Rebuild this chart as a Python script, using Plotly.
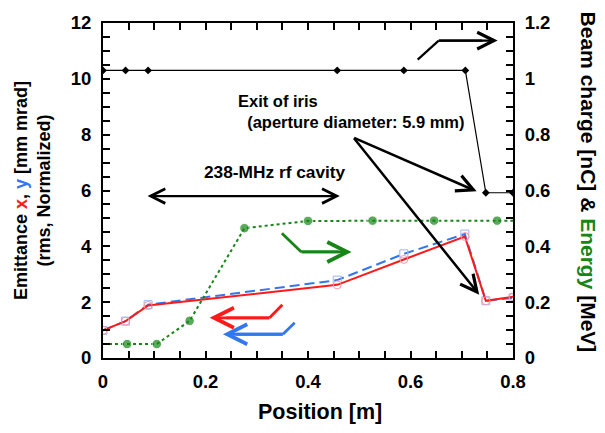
import plotly.graph_objects as go

# ---------------- data ----------------
emit_pos = [0.0, 0.044, 0.088, 0.457, 0.587, 0.706, 0.747, 0.8]
emit_x = [0.99, 1.32, 1.88, 2.62, 3.53, 4.35, 2.05, 2.19]
emit_y = [0.99, 1.32, 1.91, 2.79, 3.73, 4.44, 2.05, 2.15]

charge_pos = [0.0, 0.044, 0.088, 0.457, 0.587, 0.707, 0.747, 0.8]
charge = [1.03, 1.03, 1.03, 1.03, 1.03, 1.03, 0.592, 0.592]

energy_pos = [0.0, 0.047, 0.105, 0.169, 0.276, 0.40, 0.526, 0.646, 0.769, 0.8]
energy = [0.05, 0.05, 0.05, 0.133, 0.465, 0.491, 0.492, 0.492, 0.492, 0.492]

x_ticks = [0, 0.2, 0.4, 0.6, 0.8]
x_labels = ["0", "0.2", "0.4", "0.6", "0.8"]
yl_ticks = [0, 2, 4, 6, 8, 10, 12]
yr_ticks = [0, 0.2, 0.4, 0.6, 0.8, 1.0, 1.2]
yr_labels = ["0", "0.2", "0.4", "0.6", "0.8", "1", "1.2"]

RED = "#ff1a1a"
BLUE = "#3377f0"
GREEN = "#178517"
FONT = "Liberation Sans"

fig = go.Figure()

fig.add_trace(go.Scatter(
    x=charge_pos, y=charge, yaxis="y2", mode="lines+markers",
    line=dict(color="black", width=1.2),
    marker=dict(symbol="diamond", size=6, color="black"),
    showlegend=False))

e_sizes = [0] + [9.5] * (len(energy_pos) - 2) + [0]
fig.add_trace(go.Scatter(
    x=energy_pos, y=energy, yaxis="y2", mode="lines+markers",
    line=dict(color=GREEN, width=2, dash="dot"),
    marker=dict(symbol="circle", size=e_sizes, color=GREEN),
    showlegend=False))

fig.add_trace(go.Scatter(
    x=emit_pos, y=emit_y, mode="lines+markers",
    line=dict(color=BLUE, width=2, dash="10px,5px"),
    marker=dict(symbol="square-open", size=8, color="#9db4f2", line=dict(width=1)),
    showlegend=False))

fig.add_trace(go.Scatter(
    x=emit_pos, y=emit_x, mode="lines+markers",
    line=dict(color=RED, width=2),
    marker=dict(symbol="circle-open", size=8, color="#f59aa6", line=dict(width=1)),
    showlegend=False))

tickfont = dict(family=FONT, size=18.5, color="black", weight="bold")

fig.update_layout(
    width=605, height=433,
    margin=dict(l=103, r=92, t=19, b=75),
    paper_bgcolor="white", plot_bgcolor="white",
    font=dict(family=FONT, color="black"),
    xaxis=dict(range=[0, 0.8], tickvals=x_ticks, ticktext=x_labels,
               ticks="inside", ticklen=7, tickwidth=1.5, tickcolor="black",
               minor=dict(dtick=0.05, ticks="inside", ticklen=7, tickwidth=1.5, tickcolor="black"),
               showline=True, linewidth=2, linecolor="black", mirror="ticks",
               showgrid=False, zeroline=False, tickfont=tickfont, ticklabelstandoff=6),
    yaxis=dict(range=[0, 12], tickvals=yl_ticks,
               ticks="inside", ticklen=7, tickwidth=1.5, tickcolor="black",
               minor=dict(dtick=0.5, ticks="inside", ticklen=7, tickwidth=1.5, tickcolor="black"),
               showline=True, linewidth=2, linecolor="black", mirror=True,
               showgrid=False, zeroline=False, tickfont=tickfont, ticklabelstandoff=6),
    yaxis2=dict(range=[0, 1.2], tickvals=yr_ticks, ticktext=yr_labels,
                overlaying="y", side="right", anchor="x",
                ticks="inside", ticklen=7, tickwidth=1.5, tickcolor="black",
                minor=dict(dtick=0.05, ticks="inside", ticklen=7, tickwidth=1.5, tickcolor="black"),
                showline=True, linewidth=2, linecolor="black",
                showgrid=False, zeroline=False, tickfont=tickfont, ticklabelstandoff=6),
)

afont = dict(family=FONT, size=16.5, color="black", weight="bold")

annotations = [
    # axis titles
    dict(xref="paper", yref="paper", x=(320 - 103) / 410, y=(358 - 413) / 339,
         text="Position [m]", showarrow=False,
         font=dict(family=FONT, size=21.5, color="black", weight="bold"),
         xanchor="center", yanchor="middle"),
    dict(xref="paper", yref="paper", x=(33 - 103) / 410, y=(358 - 189) / 339,
         text=f"Emittance <span style='color:{RED}'>x</span>, <span style='color:{BLUE}'>y</span> [mm mrad]<br>(rms, Normalized)",
         showarrow=False, font=dict(family=FONT, size=18, color="black", weight="bold"),
         textangle=-90, xanchor="center", yanchor="middle"),
    dict(xref="paper", yref="paper", x=(588.5 - 103) / 410, y=(358 - 180) / 339,
         text=f"Beam charge [nC] &amp; <span style='color:{GREEN}'>Energy</span> [MeV]",
         showarrow=False, font=dict(family=FONT, size=21, color="black", weight="bold"),
         textangle=90, xanchor="center", yanchor="middle"),
    # text labels
    dict(xref="x", yref="y", x=0.335, y=6.65, text="238-MHz rf cavity",
         showarrow=False, font=dict(family=FONT, size=17.3, color="black", weight="bold"),
         xanchor="center", yanchor="middle"),
    dict(xref="x", yref="y", x=0.259, y=8.82, text="Exit of iris<br>  (aperture diameter: 5.9 mm)",
         showarrow=False, font=afont, xanchor="left", yanchor="middle", align="left"),
]

def arrow(x0, y0, x1, y1, color, width=2.5, head=1.0, both=False):
    d = dict(xref="x", yref="y", axref="x", ayref="y",
             x=x1, y=y1, ax=x0, ay=y0, text="", showarrow=True,
             font=dict(size=1), borderpad=0,
             arrowhead=5, arrowsize=head, arrowwidth=width, arrowcolor=color,
             standoff=0, startstandoff=0)
    if both:
        d.update(arrowside="end+start", startarrowhead=5, startarrowsize=head)
    return d

annotations += [
    arrow(0.086, 5.8, 0.462, 5.8, "black", 2.2, 1.3, both=True),
    arrow(0.489, 7.89, 0.729, 5.97, "black", 2.5, 1.3),
    arrow(0.489, 7.89, 0.734, 2.27, "black", 2.5, 1.3),
    arrow(0.655, 11.37, 0.770, 11.37, "black", 2.2, 1.5),
    arrow(0.387, 3.80, 0.485, 3.80, GREEN, 2.8, 1.4),
    arrow(0.325, 1.44, 0.208, 1.44, RED, 2.8, 1.4),
    arrow(0.351, 0.85, 0.234, 0.85, BLUE, 2.8, 1.4),
]
fig.update_layout(annotations=annotations)

def seg(x0, y0, x1, y1, color, width):
    return dict(type="line", xref="x", yref="y", x0=x0, y0=y0, x1=x1, y1=y1,
                line=dict(color=color, width=width))

fig.update_layout(shapes=[
    seg(0.614, 10.69, 0.655, 11.37, "black", 2.2),
    seg(0.655, 11.37, 0.74, 11.37, "black", 2.2),
    seg(0.349, 4.47, 0.387, 3.80, GREEN, 2.8),
    seg(0.387, 3.80, 0.46, 3.80, GREEN, 2.8),
    seg(0.350, 1.91, 0.325, 1.44, RED, 2.8),
    seg(0.325, 1.44, 0.24, 1.44, RED, 2.8),
    seg(0.374, 1.26, 0.351, 0.85, BLUE, 2.8),
    seg(0.351, 0.85, 0.26, 0.85, BLUE, 2.8),
])

fig.write_html("out.html")
